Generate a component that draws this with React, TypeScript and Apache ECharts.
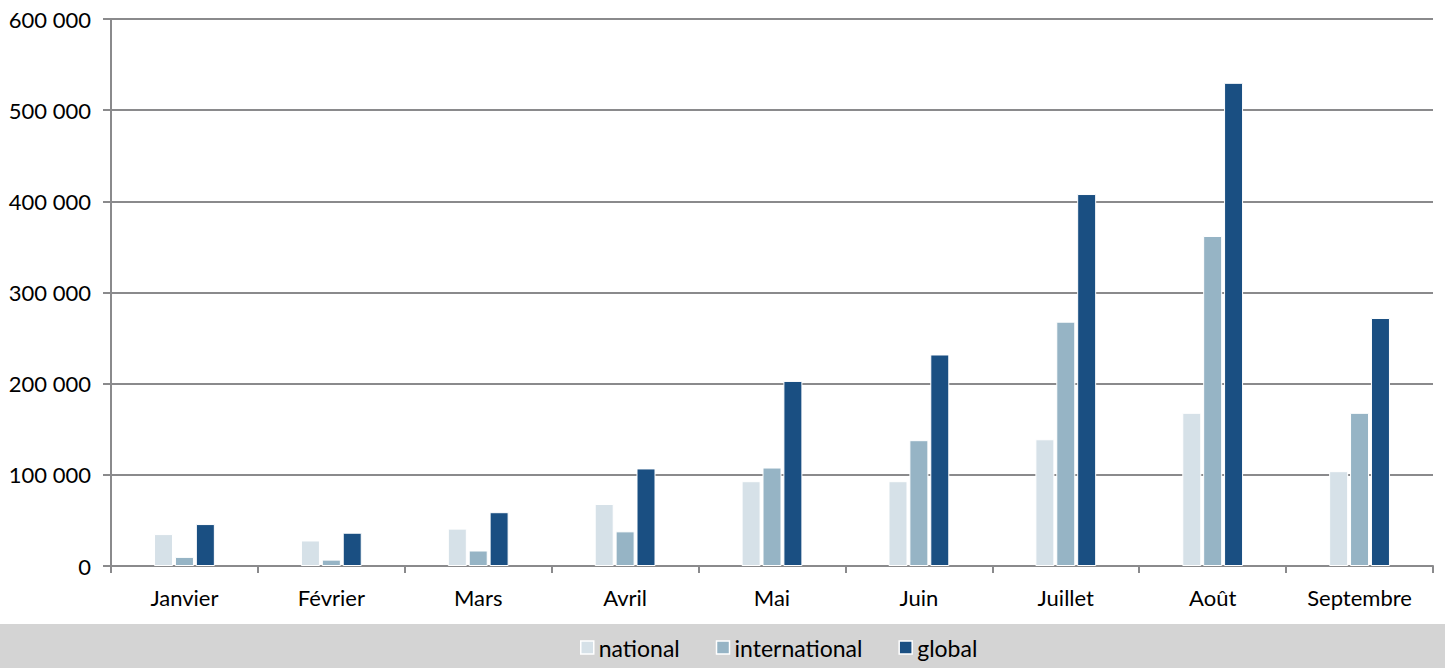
import React, { useEffect, useRef } from "react";
import * as echarts from "echarts";

const categories = ["Janvier", "Février", "Mars", "Avril", "Mai", "Juin", "Juillet", "Août", "Septembre"];
const nationalValues = [35000, 28000, 41000, 68000, 93000, 93000, 139000, 168000, 104000];
const internationalValues = [10000, 7000, 17000, 38000, 108000, 138000, 268000, 362000, 168000];
const globalValues = [46000, 36500, 59000, 107000, 203000, 232000, 408000, 530000, 272000];
const seriesNames = ["national", "international", "global"];
const colors = ["#d6e1e8", "#96b4c5", "#1a4f82"];

const FONT = "Lato, 'Open Sans', sans-serif";

export default function App() {
  const ref = useRef<HTMLDivElement>(null);
  useEffect(() => {
    document.body.style.margin = "0";
    const chart = echarts.init(ref.current!, undefined, { renderer: "svg" });
    const mk = (name: string, data: number[], color: string) => ({
      name,
      type: "bar",
      data,
      barWidth: 19,
      barGap: "10%",
      itemStyle: { color, borderColor: "#ffffff", borderWidth: 1 },
    });
    chart.setOption({
      animation: false,
      backgroundColor: "#ffffff",
      graphic: [
        {
          type: "rect",
          left: 0,
          top: 624,
          shape: { x: 0, y: 0, width: 1445, height: 44 },
          style: { fill: "#d4d4d4" },
          z: -1,
        },
      ],
      legend: {
        top: 636,
        left: 580,
        padding: 0,
        itemWidth: 13,
        itemHeight: 13,
        itemGap: 36,
        icon: "rect",
        textStyle: { fontSize: 23, color: "#000", fontFamily: FONT },
        itemStyle: { borderColor: "#ffffff", borderWidth: 1.5 },
        data: seriesNames,
      },
      grid: { left: 111, right: 12, top: 19, bottom: 102, containLabel: false },
      xAxis: {
        type: "category",
        data: categories,
        axisLine: { lineStyle: { color: "#8a8a8c", width: 2 } },
        axisTick: { show: true, length: 7, lineStyle: { color: "#8a8a8c", width: 2 } },
        axisLabel: { fontSize: 22, color: "#000", fontFamily: FONT, margin: 20 },
      },
      yAxis: {
        type: "value",
        min: 0,
        max: 600000,
        interval: 100000,
        axisLine: { show: true, lineStyle: { color: "#8a8a8c", width: 2 } },
        axisTick: { show: true, length: 8, lineStyle: { color: "#8a8a8c", width: 2 } },
        splitLine: { show: true, lineStyle: { color: "#8a8a8c", width: 2 } },
        axisLabel: {
          fontSize: 22,
          color: "#000",
          fontFamily: FONT,
          margin: 20,
          formatter: (v: number) => String(v).replace(/\B(?=(\d{3})+(?!\d))/g, " "),
        },
      },
      series: [
        mk(seriesNames[0], nationalValues, colors[0]),
        mk(seriesNames[1], internationalValues, colors[1]),
        mk(seriesNames[2], globalValues, colors[2]),
      ],
    });
    return () => chart.dispose();
  }, []);
  return <div ref={ref} style={{ width: 1445, height: 668 }} />;
}
